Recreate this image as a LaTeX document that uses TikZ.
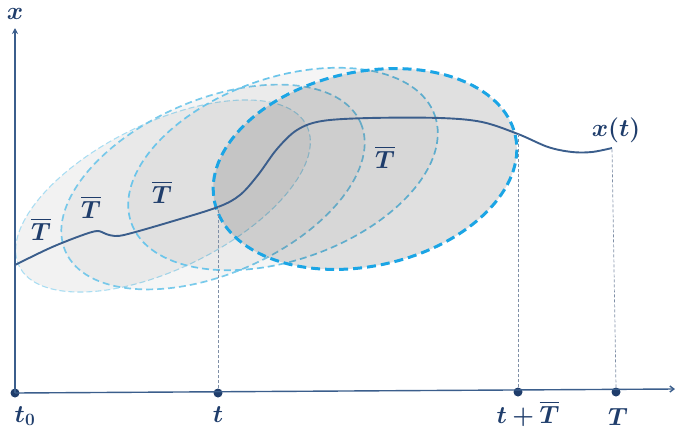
\documentclass[tikz,border=0pt]{standalone}
\usepackage{amsmath,bm}
\usetikzlibrary{arrows.meta}
\definecolor{ink}{HTML}{1F3D6B}
\definecolor{axcol}{HTML}{3B5E8C}
\definecolor{eone}{HTML}{A9DDF2}
\definecolor{etwo}{HTML}{6CC5EA}
\definecolor{efour}{HTML}{1BA5E5}
\definecolor{guide}{HTML}{7F8FA6}
\tikzset{
  axisline/.style={draw=axcol, line width=1.4pt},
  curveline/.style={draw=axcol, line width=1.9pt},
  guideline/.style={draw=guide, line width=0.7pt, dash pattern=on 3pt off 2pt},
  dotnode/.style={circle, fill=ink, inner sep=0pt, minimum size=9pt},
  lbl/.style={text=ink, font=\fontsize{24}{28}\selectfont, inner sep=0pt},
  wlbl/.style={text=ink, font=\fontsize{27}{30}\selectfont, inner sep=1pt},
  ellone/.style={fill=black, fill opacity=0.05, draw=eone, line width=1.1pt, dash pattern=on 6pt off 3pt},
  elltwo/.style={fill=black, fill opacity=0.04, draw=etwo, draw opacity=0.9, line width=1.7pt, dash pattern=on 7pt off 4pt},
  ellthree/.style={fill=black, fill opacity=0.04, draw=etwo, line width=1.7pt, dash pattern=on 7pt off 4pt},
  ellfour/.style={fill=black, fill opacity=0.12, draw=efour, line width=3pt, dash pattern=on 9pt off 5pt},
}
\begin{document}
\begin{tikzpicture}[x=1pt,y=-1pt]
\useasboundingbox (0,0) rectangle (675,429);
% windows
\path[ellone, rotate around={26:(163,196)}] (163,196) ellipse (160 and 73);
\path[elltwo, rotate around={23.5:(213,187)}] (213,187) ellipse (161 and 87);
\path[ellthree, rotate around={19.5:(283,169)}] (283,169) ellipse (161 and 91);
\path[ellfour, rotate around={12.5:(365,169)}] (365,169) ellipse (154 and 97);
% axes
\node[dotnode] (d0) at (15,393) {};
\node[dotnode] (d1) at (218,393) {};
\node[dotnode] (d2) at (518,392) {};
\node[dotnode] (d3) at (616,392) {};
\coordinate (ytop) at (15,28);
\coordinate (xend) at (675,389);
\draw[axisline, -{Stealth[length=6pt,width=6pt]}] (d0.center) -- (ytop);
\draw[axisline, -{Straight Barb[length=4pt,width=6pt]}] (d0.center) -- (xend);
% curve
\coordinate (c0) at (15,265);
\coordinate (c1) at (218,207);
\coordinate (c2) at (518,134);
\coordinate (c3) at (612,148);
\draw[curveline] plot[smooth, tension=0.55] coordinates {
 (15,265) (50,248) (80,236) (97,231) (106,234) (115,236) (128,234) (170,222)
 (218,207) (240,195) (258,175) (277,149) (297,130) (322,121) (370,118)
 (440,118) (482,122) (518,134) (548,147) (572,152) (592,152) (612,148)};
% guides
\draw[guideline] (d1.north) -- (c1);
\draw[guideline] (d2.north) -- (c2);
\draw[guideline] (d3.north) -- (c3);
% labels
\node[lbl] (lx) at (15,14) {$\bm{x}$};
\node[lbl] (lxt) at (616,130) {$\bm{x(t)}$};
\node[wlbl] (w1) at (41,229) {$\overline{\bm{T}}$};
\node[wlbl] (w2) at (91,207) {$\overline{\bm{T}}$};
\node[wlbl] (w3) at (162,192) {$\overline{\bm{T}}$};
\node[wlbl] (w4) at (385,157) {$\overline{\bm{T}}$};
\node[lbl, anchor=north] (lt0) at (25,406) {$\bm{t_0}$};
\node[lbl, anchor=north] (lt) at (218,406) {$\bm{t}$};
\node[lbl, anchor=north] (ltT) at (528,401) {$\bm{t+\overline{T}}$};
\node[lbl, anchor=north] (lT) at (618,408) {$\bm{T}$};
\end{tikzpicture}
\end{document}
